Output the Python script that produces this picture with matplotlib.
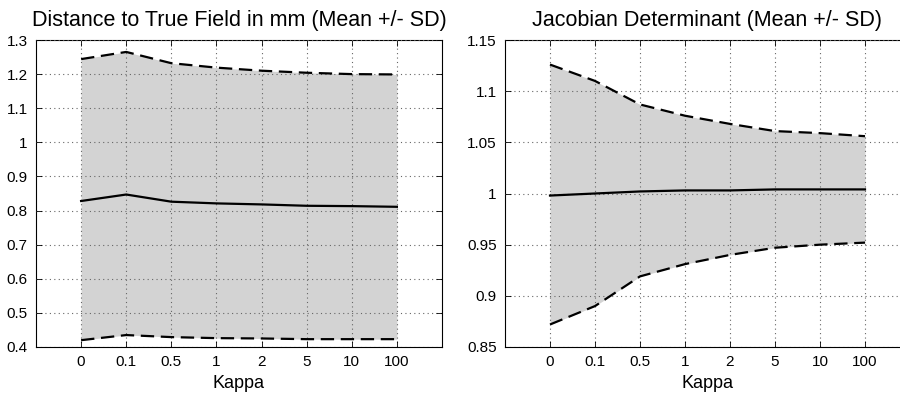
import numpy as np
import matplotlib.pyplot as plt

plt.rcParams['font.family'] = ['Liberation Sans', 'DejaVu Sans']

kappa = ['0', '0.1', '0.5', '1', '2', '5', '10', '100']

# distance to true field (mm)
dist_mean = [0.828, 0.847, 0.826, 0.821, 0.818, 0.814, 0.813, 0.811]
dist_upper = [1.244, 1.265, 1.232, 1.219, 1.210, 1.204, 1.200, 1.199]
dist_lower = [0.420, 0.435, 0.429, 0.426, 0.425, 0.423, 0.423, 0.423]

# jacobian determinant
jac_mean = [0.998, 1.000, 1.002, 1.003, 1.003, 1.004, 1.004, 1.004]
jac_upper = [1.126, 1.110, 1.087, 1.076, 1.068, 1.061, 1.059, 1.056]
jac_lower = [0.872, 0.890, 0.919, 0.931, 0.940, 0.947, 0.950, 0.952]

fig = plt.figure(figsize=(9, 3.96), dpi=100)
ax1 = fig.add_axes([36/900, 49/396, 406/900, 307/396])
ax2 = fig.add_axes([505/900, 49/396, 405/900, 307/396])


def panel(ax, mean, upper, lower, title, ylim, yticks, ylabels):
    x = np.arange(1, len(kappa) + 1)
    ax.fill_between(x, lower, upper, color='#d3d3d3', linewidth=0, zorder=1)
    ax.plot(x, mean, color='black', lw=1.6, zorder=3)
    ax.plot(x, upper, color='black', lw=1.6, ls=(0, (6, 3)), zorder=3)
    ax.plot(x, lower, color='black', lw=1.6, ls=(0, (6, 3)), zorder=3)
    ax.set_xlim(0, 9)
    ax.set_ylim(*ylim)
    ax.set_xticks(x)
    ax.set_xticklabels(kappa)
    ax.set_yticks(yticks)
    ax.set_yticklabels(ylabels)
    ax.grid(True, color='#666666', ls=(0, (1, 3)), lw=0.8, zorder=2)
    ax.set_axisbelow(False)
    ax.tick_params(direction='in', length=4, labelsize=11, top=True, right=True,
                   width=0.6, pad=6)
    for s in ax.spines.values():
        s.set_linewidth(0.8)
    ax.set_xlabel('Kappa', fontsize=13, labelpad=4)
    ax.set_title(title, fontsize=15.5, pad=10)


panel(ax1, dist_mean, dist_upper, dist_lower,
      'Distance to True Field in mm (Mean +/- SD)', (0.4, 1.3),
      np.arange(0.4, 1.31, 0.1),
      ['0.4', '0.5', '0.6', '0.7', '0.8', '0.9', '1', '1.1', '1.2', '1.3'])
panel(ax2, jac_mean, jac_upper, jac_lower,
      'Jacobian Determinant (Mean +/- SD)', (0.85, 1.15),
      np.arange(0.85, 1.151, 0.05),
      ['0.85', '0.9', '0.95', '1', '1.05', '1.1', '1.15'])

fig.savefig('out.png', dpi=100)
